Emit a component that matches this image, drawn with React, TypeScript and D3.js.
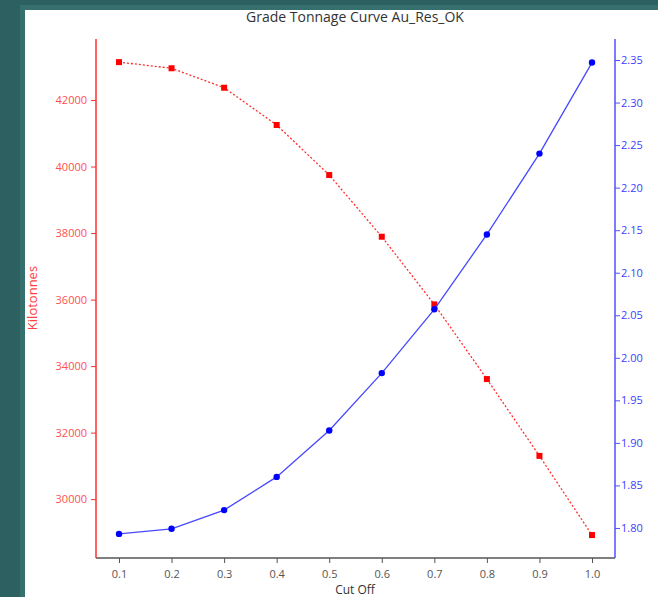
import React, { useRef, useEffect } from 'react';
import * as d3 from 'd3';

// cut-off grades along the x axis
const cutOffs = [0.1, 0.2, 0.3, 0.4, 0.5, 0.6, 0.7, 0.8, 0.9, 1.0];
// tonnage above cut-off (kilotonnes, left axis)
const tonnage = [43140, 42955, 42370, 41250, 39745, 37890, 35855, 33610, 31300, 28920];
// average grade above cut-off (right axis)
const grade = [1.793, 1.799, 1.821, 1.860, 1.9145, 1.982, 2.057, 2.145, 2.240, 2.347];

const leftTicks = [30000, 32000, 34000, 36000, 38000, 40000, 42000];
const rightTicks = [1.8, 1.85, 1.9, 1.95, 2.0, 2.05, 2.1, 2.15, 2.2, 2.25, 2.3, 2.35];

const W = 658;
const H = 597;
const FONT = '"Open Sans", "Noto Sans", sans-serif';

const App = () => {
  const svgRef = useRef<SVGSVGElement>(null);

  useEffect(() => {
    if (!svgRef.current) return;
    const svg = d3.select(svgRef.current);
    svg.selectAll('*').remove();

    // background frame
    svg.append('rect').attr('width', W).attr('height', H).attr('fill', '#2d6161');
    svg.append('rect').attr('x', 20).attr('y', 5).attr('width', W - 20).attr('height', H - 5).attr('fill', '#356f6e');
    svg.append('rect').attr('x', 25).attr('y', 10).attr('width', W - 25).attr('height', H - 10).attr('fill', '#ffffff');

    const left = 96, right = 615, top = 39, bottom = 558;

    const x = d3.scaleLinear().domain([0.1, 1.0]).range([119, 592]);
    const yL = d3.scaleLinear().domain([28230, 43835]).range([bottom, top]);
    const yR = d3.scaleLinear().domain([1.7647, 2.3747]).range([bottom, top]);

    // x axis
    const gx = svg.append('g').attr('transform', `translate(0,${bottom})`);
    gx.call(d3.axisBottom(x).tickValues(cutOffs).tickFormat(d3.format('.1f')).tickSize(5).tickSizeOuter(0));
    gx.select('.domain').remove();
    gx.append('line').attr('x1', left).attr('x2', right).attr('stroke', '#555').attr('stroke-width', 1.5);
    gx.selectAll('.tick line').attr('stroke', '#555');
    gx.selectAll('.tick text').attr('fill', '#555').attr('font-size', 11).attr('font-family', FONT).attr('dy', '1.05em');

    // left axis
    const gl = svg.append('g').attr('transform', `translate(${left},0)`);
    gl.call(d3.axisLeft(yL).tickValues(leftTicks).tickFormat(d3.format('d')).tickSize(5).tickSizeOuter(0));
    gl.select('.domain').remove();
    gl.append('line').attr('y1', top).attr('y2', bottom).attr('stroke', '#ff3030').attr('stroke-width', 1.5);
    gl.selectAll('.tick line').attr('stroke', '#ff3030');
    gl.selectAll('.tick text').attr('fill', '#ff5050').attr('font-size', 11).attr('font-family', FONT).attr('dx', '-1px');

    // right axis
    const gr = svg.append('g').attr('transform', `translate(${right},0)`);
    gr.call(d3.axisRight(yR).tickValues(rightTicks).tickFormat(d3.format('.2f')).tickSize(5).tickSizeOuter(0));
    gr.select('.domain').remove();
    gr.append('line').attr('y1', top).attr('y2', bottom).attr('stroke', '#5050ff').attr('stroke-width', 1.5);
    gr.selectAll('.tick line').attr('stroke', '#5050ff');
    gr.selectAll('.tick text').attr('fill', '#4040ff').attr('font-size', 11).attr('font-family', FONT).attr('dx', '-2px');

    // tonnage curve
    const tLine = d3.line<number>().x((_, i) => x(cutOffs[i])).y(d => yL(d));
    svg.append('path').datum(tonnage).attr('d', tLine).attr('fill', 'none')
      .attr('stroke', '#ff3030').attr('stroke-width', 1.3).attr('stroke-dasharray', '2,2');
    svg.selectAll('.sq').data(tonnage).enter().append('rect')
      .attr('x', (_, i) => x(cutOffs[i]) - 3).attr('y', d => yL(d) - 3)
      .attr('width', 6).attr('height', 6).attr('fill', '#ff0000');

    // grade curve
    const gLine = d3.line<number>().x((_, i) => x(cutOffs[i])).y(d => yR(d));
    svg.append('path').datum(grade).attr('d', gLine).attr('fill', 'none')
      .attr('stroke', '#4848ff').attr('stroke-width', 1.3);
    svg.selectAll('.dot').data(grade).enter().append('circle')
      .attr('cx', (_, i) => x(cutOffs[i])).attr('cy', d => yR(d))
      .attr('r', 3.2).attr('fill', '#0000ff');

    // titles
    svg.append('text').attr('x', 355).attr('y', 22).attr('text-anchor', 'middle')
      .attr('font-family', FONT).attr('font-size', 14).attr('fill', '#333')
      .text('Grade Tonnage Curve Au_Res_OK');
    svg.append('text').attr('transform', 'translate(37,298) rotate(-90)').attr('text-anchor', 'middle')
      .attr('font-family', FONT).attr('font-size', 13).attr('fill', '#ff4040')
      .text('Kilotonnes');
    svg.append('text').attr('x', 355).attr('y', 594).attr('text-anchor', 'middle')
      .attr('font-family', FONT).attr('font-size', 12).attr('fill', '#333')
      .text('Cut Off');
  }, []);

  return (
    <svg
      ref={svgRef}
      width={W}
      height={H}
      style={{ position: 'absolute', left: 0, top: 0, display: 'block' }}
    />
  );
};

export default App;
